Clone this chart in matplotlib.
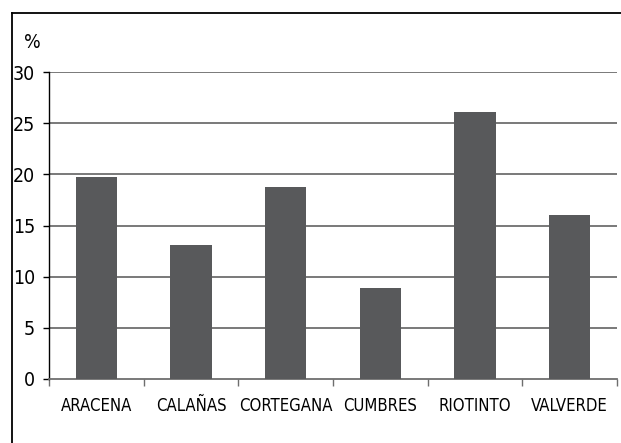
import numpy as np
import matplotlib
matplotlib.use("Agg")
import matplotlib.pyplot as plt
from matplotlib.lines import Line2D

# Datos por municipio (%)
municipios = ["ARACENA", "CALAÑAS", "CORTEGANA", "CUMBRES", "RIOTINTO", "VALVERDE"]
valores = [19.7, 13.1, 18.8, 8.9, 26.1, 16.0]
yticks = [0, 5, 10, 15, 20, 25, 30]

plt.rcParams['font.family'] = ['DejaVu Sans']
plt.rcParams['font.stretch'] = 'condensed'

W, H = 621, 443
fig = plt.figure(figsize=(W / 100, H / 100), dpi=100)

# marco exterior (solo arriba e izquierda quedan dentro de la imagen)
fig.add_artist(Line2D([12 / W, 1.0], [1 - 13 / H, 1 - 13 / H], transform=fig.transFigure,
                      color="black", lw=1.3))
fig.add_artist(Line2D([12 / W, 12 / W], [0.0, 1 - 13 / H], transform=fig.transFigure,
                      color="black", lw=1.3))

ax = fig.add_axes([49 / W, 1 - 379 / H, (617 - 49) / W, (379 - 72) / H])

x = np.arange(len(municipios))
ax.bar(x, valores, width=0.435, color="#58595b", zorder=3)

ax.set_xlim(-0.5, len(municipios) - 0.5)
ax.set_ylim(0, 30)
ax.set_yticks(yticks)
ax.set_yticklabels([str(v) for v in yticks], fontsize=14, fontstretch='condensed')
for v in yticks[1:]:
    ax.axhline(v, color="#6e6e6e", lw=1.3, zorder=1)

ax.set_xticks(x)
ax.set_xticklabels(municipios, fontsize=12, fontstretch='condensed')
ax.set_xticks(np.arange(-0.5, len(municipios)), minor=True)
ax.tick_params(axis="x", which="major", length=0, pad=13)
ax.tick_params(axis="x", which="minor", length=5, color="#6e6e6e", width=1)
ax.tick_params(axis="y", length=4, width=1, pad=6, color="black")

for s in ["top", "right"]:
    ax.spines[s].set_visible(False)
ax.spines["left"].set_color("black")
ax.spines["left"].set_linewidth(1)
ax.spines["bottom"].set_color("#6e6e6e")
ax.spines["bottom"].set_linewidth(1.3)

fig.text(24 / W, 1 - 52 / H, "%", fontsize=14, fontstretch='condensed', ha="left", va="bottom")

fig.savefig("out.png", dpi=100)
